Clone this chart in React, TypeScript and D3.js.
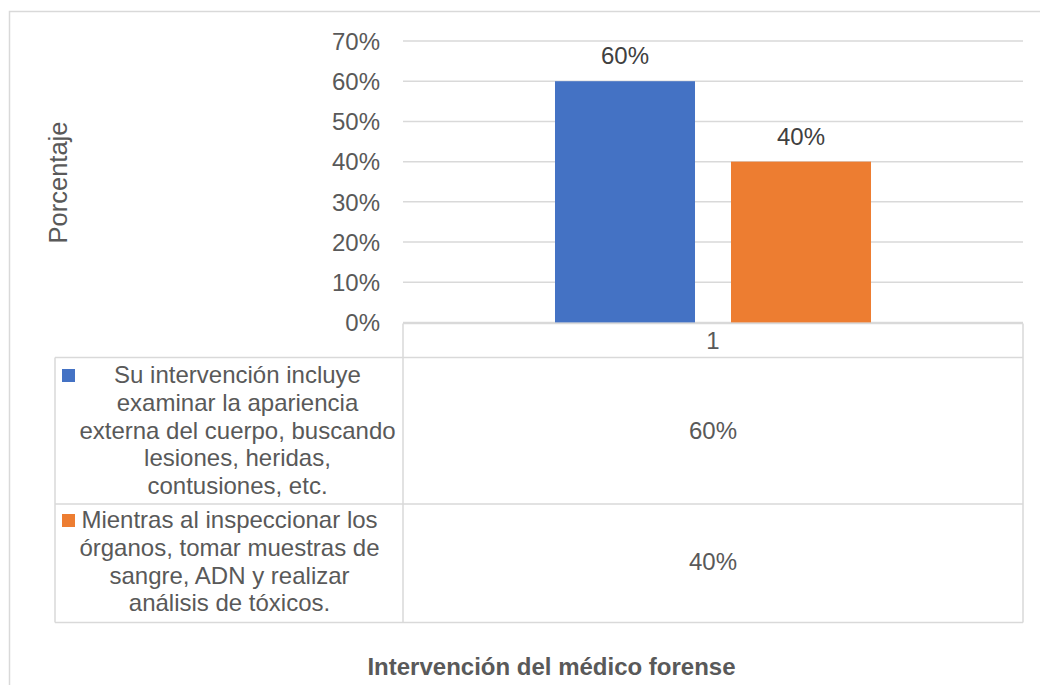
import React from "react";
import * as d3 from "d3";

const categories = ["1"];
const seriesNames = [
  "Su intervención incluye examinar la apariencia externa del cuerpo, buscando lesiones, heridas, contusiones, etc.",
  "Mientras al inspeccionar los órganos, tomar muestras de sangre, ADN y realizar análisis de tóxicos.",
];
const seriesLegendLines = [
  ["Su intervención incluye", "examinar la apariencia", "externa del cuerpo, buscando", "lesiones, heridas,", "contusiones, etc."],
  ["Mientras al inspeccionar los", "órganos, tomar muestras de", "sangre, ADN y realizar", "análisis de tóxicos."],
];
const seriesValues = [0.6, 0.4];
const seriesColors = ["#4472C4", "#ED7D31"];
const yTicks = [0, 0.1, 0.2, 0.3, 0.4, 0.5, 0.6, 0.7];
const yAxisTitle = "Porcentaje";
const xAxisTitle = "Intervención del médico forense";

const FONT = "Arial, 'Liberation Sans', sans-serif";
const TEXT = "#595959";
const GRID = "#d9d9d9";
const FS = 24;

export default function App() {
  const plotL = 403;
  const plotR = 1023;
  const y = d3.scaleLinear().domain([0, 0.7]).range([322.5, 41]);
  const x0 = d3.scaleBand<string>().domain(categories).range([plotL, plotR]).paddingInner(0).paddingOuter(0.481);
  const x1 = d3
    .scaleBand<number>()
    .domain(seriesValues.map((_, i) => i))
    .range([0, x0.bandwidth()])
    .paddingInner(0.2045);
  const fmt = d3.format(".0%");

  const tableTop = 323.5;
  const rowTops = [357.5, 504, 622.5];
  const legendLeft = 55;
  const lineH = 27.8;
  const rowCenters = [237.5, 229.5];
  const firstBaselines = [383, 528];
  const valueBaselines = [439, 570];
  const catCenter = x0(categories[0])! + x0.bandwidth() / 2;

  return (
    <svg width={1040} height={685} style={{ position: "absolute", left: 0, top: 0, background: "#fff" }} fontFamily={FONT}>
      <rect x={0} y={0} width={1040} height={685} fill="#fff" />
      <rect x={9.5} y={11.5} width={1100} height={700} fill="none" stroke={GRID} strokeWidth={1.5} />

      {/* gridlines */}
      {yTicks.map((t) => (
        <line key={t} x1={plotL} x2={plotR} y1={y(t)} y2={y(t)} stroke={GRID} strokeWidth={1.5} />
      ))}
      {/* tick labels */}
      {yTicks.map((t) => (
        <text key={"l" + t} x={380} y={y(t) + 8.7} textAnchor="end" fontSize={FS} fill={TEXT}>
          {fmt(t)}
        </text>
      ))}

      {/* bars */}
      {seriesValues.map((v, i) => (
        <rect
          key={i}
          x={x0(categories[0])! + x1(i)!}
          y={y(v)}
          width={x1.bandwidth()}
          height={y(0) - y(v)}
          fill={seriesColors[i]}
        />
      ))}
      {/* data labels */}
      {seriesValues.map((v, i) => (
        <text
          key={"d" + i}
          x={x0(categories[0])! + x1(i)! + x1.bandwidth() / 2}
          y={y(v) - 17}
          textAnchor="middle"
          fontSize={FS}
          fill="#404040"
        >
          {fmt(v)}
        </text>
      ))}

      {/* data table */}
      <g stroke={GRID} strokeWidth={1.5} fill="none">
        <line x1={plotL} x2={plotR} y1={tableTop} y2={tableTop} />
        {rowTops.map((r, i) => (
          <line key={i} x1={legendLeft} x2={plotR} y1={r} y2={r} />
        ))}
        <line x1={plotL} x2={plotL} y1={tableTop} y2={rowTops[2]} />
        <line x1={plotR} x2={plotR} y1={tableTop} y2={rowTops[2]} />
        <line x1={legendLeft} x2={legendLeft} y1={rowTops[0]} y2={rowTops[2]} />
      </g>
      <text x={catCenter} y={349} textAnchor="middle" fontSize={FS} fill={TEXT}>
        {categories[0]}
      </text>
      {seriesNames.map((name, i) => (
        <g key={"s" + i}>
          <title>{name}</title>
          <rect x={62} y={firstBaselines[i] - 14} width={13} height={13} fill={seriesColors[i]} />
          {seriesLegendLines[i].map((ln, j) => (
            <text key={j} x={rowCenters[i]} y={firstBaselines[i] + j * lineH} textAnchor="middle" fontSize={FS} fill={TEXT}>
              {ln}
            </text>
          ))}
          <text x={catCenter} y={valueBaselines[i]} textAnchor="middle" fontSize={FS} fill={TEXT}>
            {fmt(seriesValues[i])}
          </text>
        </g>
      ))}

      {/* axis titles */}
      <text transform="translate(67,182.5) rotate(-90)" textAnchor="middle" fontSize={25.5} fill={TEXT}>
        {yAxisTitle}
      </text>
      <text x={551.5} y={675} textAnchor="middle" fontSize={FS} fontWeight="bold" fill={TEXT}>
        {xAxisTitle}
      </text>
    </svg>
  );
}
